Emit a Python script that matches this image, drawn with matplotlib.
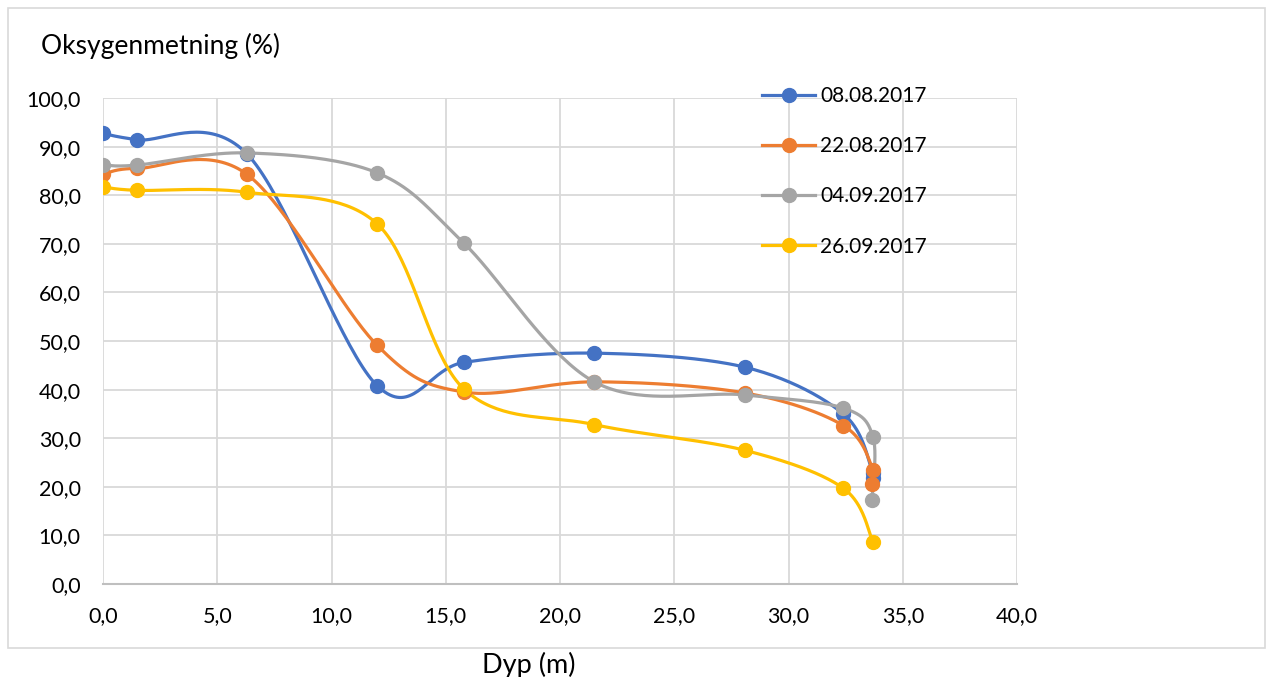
import matplotlib
matplotlib.use("Agg")
import matplotlib.pyplot as plt
import numpy as np
from matplotlib.patches import Rectangle
from matplotlib.ticker import FuncFormatter, MultipleLocator

plt.rcParams["font.family"] = ["Lato", "DejaVu Sans"]

# Depth (m) and oxygen saturation (%) per sampling date
dates = ["08.08.2017", "22.08.2017", "04.09.2017", "26.09.2017"]
colors = ["#4472C4", "#ED7D31", "#A5A5A5", "#FFC000"]

depth_0808 = [0.0, 1.5, 6.3, 12.0, 15.8, 21.5, 28.1, 32.4, 33.7, 33.7]
oxy_0808 = [92.7, 91.4, 88.5, 40.8, 45.6, 47.5, 44.6, 35.0, 22.8, 21.8]

depth_2208 = [0.0, 1.5, 6.3, 12.0, 15.8, 21.5, 28.1, 32.4, 33.7, 33.65]
oxy_2208 = [84.3, 85.5, 84.3, 49.1, 39.5, 41.6, 39.3, 32.6, 23.5, 20.6]

depth_0409 = [0.0, 1.5, 6.3, 12.0, 15.8, 21.5, 28.1, 32.4, 33.7, 33.65]
oxy_0409 = [86.2, 86.2, 88.7, 84.6, 70.1, 41.6, 38.9, 36.2, 30.2, 17.2]

depth_2609 = [0.0, 1.5, 6.3, 12.0, 15.8, 21.5, 28.1, 32.4, 33.7]
oxy_2609 = [81.7, 81.0, 80.6, 74.1, 40.1, 32.8, 27.5, 19.7, 8.7]

series = [(depth_0808, oxy_0808), (depth_2208, oxy_2208),
          (depth_0409, oxy_0409), (depth_2609, oxy_2609)]


def smooth_line(x, y, steps=40):
    """Bezier smoothing through every point (Catmull-Rom style control points)."""
    pts = np.column_stack([x, y]).astype(float)
    padded = np.vstack([pts[0], pts, pts[-1]])
    out = []
    t = np.linspace(0, 1, steps)[:, None]
    for i in range(1, len(padded) - 2):
        p0, p1, p2, p3 = padded[i - 1], padded[i], padded[i + 1], padded[i + 2]
        c1 = p1 + (p2 - p0) / 6
        c2 = p2 - (p3 - p1) / 6
        seg = ((1 - t) ** 3) * p1 + 3 * ((1 - t) ** 2) * t * c1 \
            + 3 * (1 - t) * t ** 2 * c2 + t ** 3 * p2
        out.append(seg)
    curve = np.vstack(out)
    return curve[:, 0], curve[:, 1]


W, H = 1273, 677
fig = plt.figure(figsize=(W / 100, H / 100), dpi=100)

# outer chart frame
fig.patches.append(Rectangle((8 / W, 1 - 648 / H), 1257 / W, 640 / H,
                             transform=fig.transFigure, fill=False,
                             edgecolor="#D9D9D9", linewidth=1.2))

ax = fig.add_axes([103 / W, 1 - 584 / H, (1017 - 103) / W, (584 - 98) / H])

for (x, y), label, color in zip(series, dates, colors):
    sx, sy = smooth_line(x, y)
    ax.plot(sx, sy, color=color, linewidth=2.3, zorder=3, solid_capstyle="round")
    ax.plot(x, y, linestyle="none", marker="o", markersize=10,
            color=color, zorder=4)
    ax.plot([], [], color=color, linewidth=2.3, marker="o", markersize=10,
            label=label)

ax.set_xlim(0, 40)
ax.set_ylim(0, 100)
ax.xaxis.set_major_locator(MultipleLocator(5))
ax.yaxis.set_major_locator(MultipleLocator(10))
comma = FuncFormatter(lambda v, _: f"{v:.1f}".replace(".", ","))
ax.xaxis.set_major_formatter(comma)
ax.yaxis.set_major_formatter(comma)
ax.tick_params(length=0, labelsize=15.5, colors="#000000")
ax.tick_params(axis="x", pad=16)
ax.tick_params(axis="y", pad=16)
ax.grid(True, color="#D9D9D9", linewidth=1.3)
ax.set_axisbelow(True)
for side in ["top", "right", "left"]:
    ax.spines[side].set_visible(False)
ax.spines["bottom"].set_color("#BFBFBF")
ax.spines["bottom"].set_linewidth(1.5)

fig.text(41 / W, 1 - 54 / H, "Oksygenmetning (%)", fontsize=19, va="baseline", ha="left")
fig.text(529 / W, 1 - 673 / H, "Dyp (m)", fontsize=19.5, va="baseline", ha="center")

ax.legend(loc="upper left", bbox_to_anchor=(762 / W, 1 - 86 / H),
          bbox_transform=fig.transFigure, frameon=False, fontsize=15,
          handlelength=2.55, handletextpad=0.25, labelspacing=1.45,
          borderpad=0, borderaxespad=0)

fig.savefig("out.png", dpi=100)
